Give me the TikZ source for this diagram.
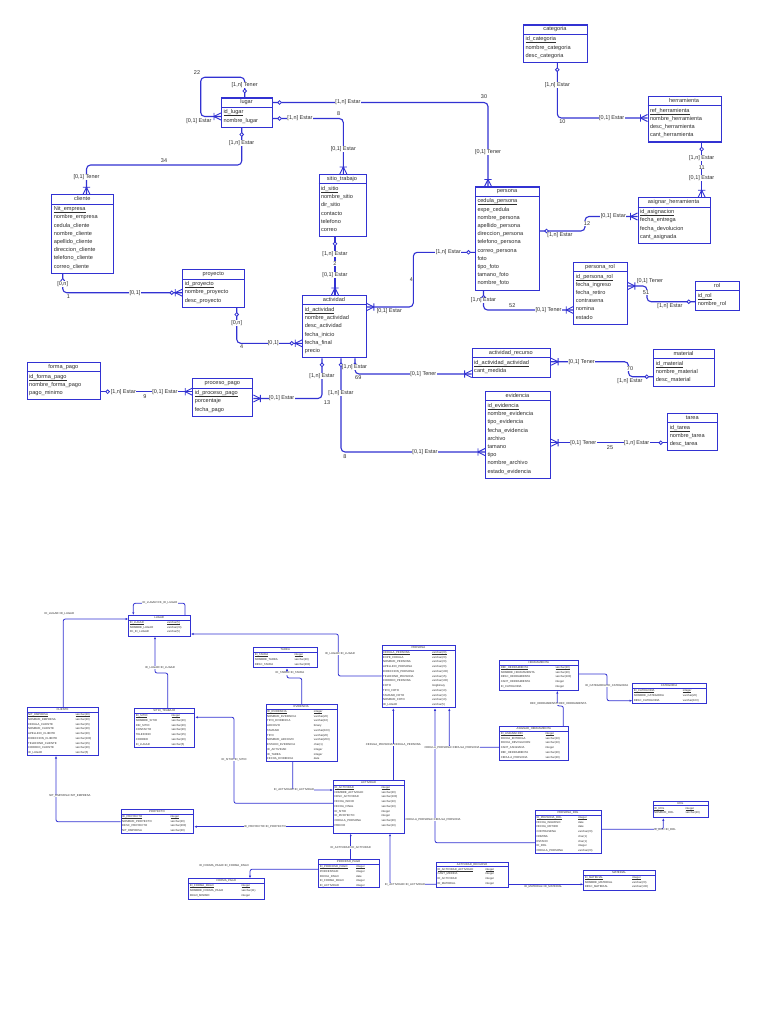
\documentclass[tikz,border=0pt]{standalone}
\usepackage{fontspec}
\setmainfont{Liberation Sans}
\usetikzlibrary{arrows.meta,decorations.markings}
\definecolor{ercol}{RGB}{50,50,210}
\definecolor{txtcol}{RGB}{45,45,45}
\newcount\labn
\newcommand\pku[1]{\vtop{\hbox{#1}\kern0.35pt\hrule height0.8pt}}
\newcommand\pkb[1]{\vtop{\hbox{#1}\kern0.2pt\hrule height0.55pt}}
\tikzset{
 entbox/.style={draw=ercol,line width=1.1pt,inner sep=0pt,anchor=north west},
 entsep/.style={draw=ercol,line width=1pt},
 etxt/.style={font=\fontsize{5.6}{6.5}\selectfont,text=txtcol,inner sep=0pt},
 rel/.style={draw=ercol,line width=1.1pt,rounded corners=4pt},
 onemark/.style={postaction={decorate,decoration={markings,mark=at position 6.5pt with {\draw[ercol,line width=0.8pt,fill=white] (0,0) circle (1.8pt);}}}},
 crowend/.style={postaction={decorate,decoration={markings,mark=at position -0.01pt with {\draw[ercol,line width=0.9pt] (-7pt,0) -- (0,3.5pt) (-7pt,0) -- (0,-3.5pt) (-7pt,3.6pt) -- (-7pt,-3.6pt);}}}},
 optcrow/.style={crowend,postaction={decorate,decoration={markings,mark=at position -10.5pt with {\draw[ercol,line width=0.8pt,fill=white] (0,0) circle (1.8pt);}}}},
 lab/.style={font=\fontsize{5.5}{6}\selectfont,text=txtcol,fill=white,inner sep=0.3pt},
 pbox/.style={draw=ercol,line width=0.9pt,inner sep=0pt,anchor=north west},
 psep/.style={draw=ercol,line width=0.7pt},
 ptxt/.style={font=\fontsize{2.8}{3}\selectfont,text=txtcol,inner sep=0pt},
 prel/.style={draw=ercol,line width=0.8pt,rounded corners=2pt,-{Latex[length=2.6pt,width=2.2pt]}},
 plab/.style={font=\fontsize{2.8}{3}\selectfont,text=txtcol,fill=white,inner sep=0.2pt},
}
% conceptual entity: id, x, y, width, height, title, fields
\newcommand\erent[7]{%
  \node[entbox,minimum width=#4pt,minimum height=#5pt] (#1) at (#2,#3) {};
  \draw[entsep] ({#2},{#3+9.8}) -- ({#2+#4},{#3+9.8});
  \node[etxt,anchor=base] (#1-t) at ({#2+#4/2},{#3+6.5}) {#6};
  \foreach \f [count=\i] in {#7} {
    \node[etxt,anchor=base west] (#1-\i) at ({#2+2.3},{#3+16.4+8.2*(\i-1)}) {\f};
  }%
}
% physical table: id, x, y, width, height, title, name/type rows
\newcommand\phent[7]{%
  \node[pbox,minimum width=#4pt,minimum height=#5pt] (#1) at (#2,#3) {};
  \draw[psep] ({#2},{#3+5}) -- ({#2+#4},{#3+5});
  \node[ptxt,anchor=base] (#1-t) at ({#2+#4/2},{#3+3.5}) {#6};
  \foreach \colname/\coltype [count=\i] in {#7} {
    \node[ptxt,anchor=base west] (#1-n\i) at ({#2+1.3},{#3+8.4+4.75*(\i-1)}) {\ifnum\i=1 \pkb{\colname}\else\colname\fi};
    \node[ptxt,anchor=base west] (#1-y\i) at ({#2+#4-23},{#3+8.4+4.75*(\i-1)}) {\ifnum\i=1 \pkb{\coltype}\else\coltype\fi};
  }%
}
\newcommand\lbl[2]{\global\advance\labn by 1 \node[lab] (lab\the\labn) at (#1) {#2};}
\newcommand\plbl[2]{\global\advance\labn by 1 \node[plab] (lab\the\labn) at (#1) {#2};}
\begin{document}
\begin{tikzpicture}[x=1pt,y=-1pt]
\useasboundingbox[fill=white] (0,0) rectangle (768,1024);

% ================= conceptual model =================
\erent{lugar}{221}{97.5}{51}{29.4}{lugar}{\pku{id\_lugar},nombre\_lugar}
\erent{sitio}{318.5}{174}{47}{62.2}{sitio\_trabajo}{\pku{id\_sitio},nombre\_sitio,dir\_sitio,contacto,telefono,correo}
\erent{categoria}{523}{24.5}{64}{37.6}{categoria}{\pku{id\_categoria},nombre\_categoria,desc\_categoria}
\erent{herramienta}{647.5}{95.7}{73}{45.8}{herramienta}{\pku{ref\_herramienta},nombre\_herramienta,desc\_herramienta,cant\_herramienta}
\erent{asignar}{637.5}{197.3}{72}{45.8}{asignar\_herramienta}{\pku{id\_asignacion},fecha\_entrega,fecha\_devolucion,cant\_asignada}
\erent{persona}{475}{186.5}{64}{103.2}{persona}{\pku{cedula\_persona},expe\_cedula,nombre\_persona,apellido\_persona,direccion\_persona,telefono\_persona,correo\_persona,foto,tipo\_foto,tamano\_foto,nombre\_foto}
\erent{cliente}{51.3}{194.3}{62}{78.6}{cliente}{\pku{Nit\_empresa},nombre\_empresa,cedula\_cliente,nombre\_cliente,apellido\_cliente,direccion\_cliente,telefono\_cliente,correo\_cliente}
\erent{proyecto}{182.3}{269.3}{62}{37.6}{proyecto}{\pku{id\_proyecto},nombre\_proyecto,desc\_proyecto}
\erent{formapago}{26.7}{361.7}{73.3}{37.6}{forma\_pago}{\pku{id\_forma\_pago},nombre\_forma\_pago,pago\_minimo}
\erent{procesopago}{192.3}{378.3}{60}{37.6}{proceso\_pago}{\pku{id\_proceso\_pago},porcentaje,fecha\_pago}
\erent{actividad}{302.3}{295}{63.4}{62.2}{actividad}{\pku{id\_actividad},nombre\_actividad,desc\_actividad,fecha\_inicio,fecha\_final,precio}
\erent{actrec}{471.7}{347.7}{78.3}{29.4}{actividad\_recurso}{\pku{id\_actividad\_actividad},cant\_medida}
\erent{evidencia}{485}{391}{65}{86.8}{evidencia}{\pku{id\_evidencia},nombre\_evidencia,tipo\_evidencia,fecha\_evidencia,archivo,tamano,tipo,nombre\_archivo,estado\_evidencia}
\erent{personarol}{573.3}{261.7}{53.4}{62.2}{persona\_rol}{\pku{id\_persona\_rol},fecha\_ingreso,fecha\_retiro,contrasena,nomina,estado}
\erent{rol}{695.3}{280.7}{43.4}{29.4}{rol}{\pku{id\_rol},nombre\_rol}
\erent{material}{653.3}{348.7}{60.4}{37.6}{material}{\pku{id\_material},nombre\_material,desc\_material}
\erent{tarea}{667.3}{412.7}{50}{37.6}{tarea}{\pku{id\_tarea},nombre\_tarea,desc\_tarea}

% relationships
\draw[rel,onemark,crowend] (lugar.north -| 244.7,0) -- (244.7,77.3) -- (200.7,77.3) -- (200.7,116.5) -- (lugar.west |- 0,116.5);
\draw[rel,onemark,crowend] (lugar.east |- 0,102.5) -- (488,102.5) -- (persona.north -| 488,0);
\draw[rel,onemark,crowend] (lugar.east |- 0,118.5) -- (343.3,118.5) -- (sitio.north -| 343.3,0);
\draw[rel,onemark,crowend] (lugar.south -| 241.7,0) -- (241.7,165) -- (86.5,165) -- (cliente.north -| 86.5,0);
\draw[rel,onemark,crowend] (categoria.south -| 557.3,0) -- (557.3,118) -- (herramienta.west |- 0,118);
\draw[rel,onemark,crowend] (herramienta.south -| 701.7,0) -- (asignar.north -| 701.7,0);
\draw[rel,onemark,crowend] (persona.east |- 0,231) -- (585,231) -- (585,216.5) -- (asignar.west |- 0,216.5);
\draw[rel,onemark,crowend] (persona.west |- 0,252.3) -- (413.3,252.3) -- (413.3,307) -- (actividad.east |- 0,307);
\draw[rel,onemark,crowend] (sitio.south -| 335,0) -- (actividad.north -| 335,0);
\draw[rel,onemark,crowend] (persona.south -| 483.5,0) -- (483.5,310) -- (personarol.west |- 0,310);
\draw[rel,onemark,crowend] (rol.west |- 0,301.7) -- (647,301.7) -- (647,286) -- (personarol.east |- 0,286);
\draw[rel,onemark,crowend] (material.west |- 0,376.7) -- (628.5,376.7) -- (628.5,361.7) -- (actrec.east |- 0,361.7);
\draw[rel,onemark,crowend] (tarea.west |- 0,442.7) -- (evidencia.east |- 0,442.7);
\draw[rel,onemark,optcrow] (cliente.south -| 62.7,0) -- (62.7,292.7) -- (proyecto.west |- 0,292.7);
\draw[rel,onemark,optcrow] (proyecto.south -| 236.7,0) -- (236.7,343.3) -- (actividad.west |- 0,343.3);
\draw[rel,onemark,crowend] (formapago.east |- 0,391.7) -- (procesopago.west |- 0,391.7);
\draw[rel,onemark,crowend] (actividad.south -| 322,0) -- (322,398.5) -- (procesopago.east |- 0,398.5);
\draw[rel,onemark,crowend] (actividad.south -| 355,0) -- (355,374) -- (actrec.west |- 0,374);
\draw[rel,onemark,crowend] (actividad.south -| 341,0) -- (341,452) -- (evidencia.west |- 0,452);

% relationship labels
\lbl{197,72.3}{22}
\lbl{244.7,85}{[1,n] Tener}
\lbl{199,121}{[0,1] Estar}
\lbl{348,102.5}{[1,n] Estar}
\lbl{484,97}{30}
\lbl{488,151.7}{[0,1] Tener}
\lbl{300,118.5}{[1,n] Estar}
\lbl{338.7,113.3}{8}
\lbl{343.3,149.3}{[0,1] Estar}
\lbl{241.7,143.3}{[1,n] Estar}
\lbl{164,161}{34}
\lbl{86.5,177}{[0,1] Tener}
\lbl{557.3,85.3}{[1,n] Estar}
\lbl{562.3,122}{10}
\lbl{611.7,118}{[0,1] Estar}
\lbl{701.7,157.7}{[1,n] Estar}
\lbl{701.7,167.3}{11}
\lbl{701.7,178.3}{[0,1] Estar}
\lbl{560,235}{[1,n] Estar}
\lbl{587,223.3}{12}
\lbl{613.3,216.5}{[0,1] Estar}
\lbl{448.3,252.3}{[1,n] Estar}
\lbl{411.5,279.3}{4}
\lbl{389.3,311.5}{[0,1] Estar}
\lbl{335,254.3}{[1,n] Estar}
\lbl{335,263.7}{2}
\lbl{335,275.3}{[0,1] Estar}
\lbl{483.5,300.5}{[1,n] Estar}
\lbl{512.3,306}{52}
\lbl{548.5,310}{[0,1] Tener}
\lbl{650,280.7}{[0,1] Tener}
\lbl{646,292.7}{51}
\lbl{670,306}{[1,n] Estar}
\lbl{581.7,361.7}{[0,1] Tener}
\lbl{630,368.5}{70}
\lbl{630,381}{[1,n] Estar}
\lbl{583.3,442.7}{[0,1] Tener}
\lbl{610,447.5}{25}
\lbl{636.7,442.7}{[1,n] Estar}
\lbl{62.7,284}{[0,n]}
\lbl{68.3,297}{1}
\lbl{135,292.7}{[0,1]}
\lbl{236.7,323.3}{[0,n]}
\lbl{241.7,346.5}{4}
\lbl{273.3,343.3}{[0,1]}
\lbl{123.3,391.7}{[1,n] Estar}
\lbl{145,397}{9}
\lbl{165,391.7}{[0,1] Estar}
\lbl{322,375.7}{[1,n] Estar}
\lbl{327,402.3}{13}
\lbl{281.7,398.5}{[0,1] Estar}
\lbl{354.5,366.7}{[1,n] Estar}
\lbl{358.3,378}{69}
\lbl{423.3,374}{[0,1] Tener}
\lbl{341,392.7}{[1,n] Estar}
\lbl{345,457}{8}
\lbl{425,452}{[0,1] Estar}

% ================= physical model =================
\phent{LUGARp}{128.3}{615}{61.7}{20.7}{LUGAR}{ID\_LUGAR/varchar(5),NOMBRE\_LUGAR/varchar(20),FK\_ID\_LUGAR/varchar(5)}
\phent{CLIENTEp}{26.7}{707.3}{71.6}{47.7}{CLIENTE}{NIT\_EMPRESA/varchar(20),NOMBRE\_EMPRESA/varchar(20),CEDULA\_CLIENTE/varchar(15),NOMBRE\_CLIENTE/varchar(20),APELLIDO\_CLIENTE/varchar(20),DIRECCION\_CLIENTE/varchar(100),TELEFONO\_CLIENTE/varchar(15),CORREO\_CLIENTE/varchar(20),ID\_LUGAR/varchar(5)}
\phent{SITIOp}{134.3}{708.3}{60}{39}{SITIO\_TRABAJO}{ID\_SITIO/integer,NOMBRE\_SITIO/varchar(20),DIR\_SITIO/varchar(20),CONTACTO/varchar(20),TELEFONO/varchar(15),CORREO/varchar(20),ID\_LUGAR/varchar(5)}
\phent{TAREAp}{253.3}{647.3}{64}{20}{TAREA}{ID\_TAREA/integer,NOMBRE\_TAREA/varchar(20),DESC\_TAREA/varchar(200)}
\phent{EVIDENCIAp}{265.7}{704}{71}{57}{EVIDENCIA}{ID\_EVIDENCIA/integer,NOMBRE\_EVIDENCIA/varchar(20),TIPO\_EVIDENCIA/varchar(10),ARCHIVO/binary,TAMANO/varchar(100),TIPO/varchar(20),NOMBRE\_ARCHIVO/varchar(200),ESTADO\_EVIDENCIA/char(1),ID\_ACTIVIDAD/integer,ID\_TAREA/integer,FECHA\_EVIDENCIA/date}
\phent{PERSONAp}{381.7}{645}{73.3}{62.3}{PERSONA}{CEDULA\_PERSONA/varchar(20),EXPE\_CEDULA/varchar(20),NOMBRE\_PERSONA/varchar(20),APELLIDO\_PERSONA/varchar(20),DIRECCION\_PERSONA/varchar(100),TELEFONO\_PERSONA/varchar(15),CORREO\_PERSONA/varchar(100),FOTO/longbinary,TIPO\_FOTO/varchar(10),TAMANO\_FOTO/varchar(10),NOMBRE\_FOTO/varchar(10),ID\_LUGAR/varchar(5)}
\phent{HERRp}{499.3}{660}{79}{30}{HERRAMIENTA}{REF\_HERRAMIENTA/varchar(20),NOMBRE\_HERRAMIENTA/varchar(20),DESC\_HERRAMIENTA/varchar(100),CANT\_HERRAMIENTA/integer,ID\_CATEGORIA/integer}
\phent{CATEGORIAp}{632.3}{683.3}{73.4}{20}{CATEGORIA}{ID\_CATEGORIA/integer,NOMBRE\_CATEGORIA/varchar(20),DESC\_CATEGORIA/varchar(100)}
\phent{ASIGNARp}{499.3}{726}{69}{34}{ASIGNAR\_HERRAMIENTA}{ID\_ASIGNACION/integer,FECHA\_ENTREGA/varchar(10),FECHA\_DEVOLUCION/varchar(10),CANT\_ASIGNADA/integer,REF\_HERRAMIENTA/varchar(20),CEDULA\_PERSONA/varchar(20)}
\phent{ACTIVIDADp}{333}{780}{71.3}{52.7}{ACTIVIDAD}{ID\_ACTIVIDAD/integer,NOMBRE\_ACTIVIDAD/varchar(20),DESC\_ACTIVIDAD/varchar(100),FECHA\_INICIO/varchar(10),FECHA\_FINAL/varchar(10),ID\_SITIO/integer,ID\_PROYECTO/integer,CEDULA\_PERSONA/varchar(20),PRECIO/varchar(10)}
\phent{PROYECTOp}{120.7}{809}{72.6}{24.3}{PROYECTO}{ID\_PROYECTO/integer,NOMBRE\_PROYECTO/varchar(20),DESC\_PROYECTO/varchar(200),NIT\_EMPRESA/varchar(20)}
\phent{PROCESOp}{318.3}{859.3}{60.7}{28}{PROCESO\_PAGO}{ID\_PROCESO\_PAGO/integer,PORCENTAJE/integer,FECHA\_PAGO/date,ID\_FORMA\_PAGO/integer,ID\_ACTIVIDAD/integer}
\phent{FORMAp}{188.3}{878.3}{76}{20.4}{FORMA\_PAGO}{ID\_FORMA\_PAGO/integer,NOMBRE\_FORMA\_PAGO/varchar(11),PAGO\_MINIMO/integer}
\phent{ACTRECp}{436}{861.7}{72.3}{25}{ACTIVIDAD\_RECURSO}{ID\_ACTIVIDAD\_ACTIVIDAD/integer,CANT\_MEDIDA/integer,ID\_ACTIVIDAD/integer,ID\_MATERIAL/integer}
\phent{MATERIALp}{583.3}{870}{71.7}{20}{MATERIAL}{ID\_MATERIAL/integer,NOMBRE\_MATERIAL/varchar(20),DESC\_MATERIAL/varchar(100)}
\phent{PERSONAROLp}{535}{810}{66}{43.3}{PERSONA\_ROL}{ID\_PERSONA\_ROL/integer,FECHA\_INGRESO/date,FECHA\_RETIRO/date,CONTRASENA/varchar(20),NOMINA/char(1),ESTADO/char(1),ID\_ROL/integer,CEDULA\_PERSONA/varchar(20)}
\phent{ROLp}{652.7}{800.7}{55.6}{16.6}{ROL}{ID\_ROL/integer,NOMBRE\_ROL/varchar(20)}

% references
\draw[prel] (LUGARp.north -| 185,0) -- (185,603.3) -- (133.3,603.3) -- (LUGARp.north -| 133.3,0);
\draw[prel] (CLIENTEp.north -| 63.3,0) -- (63.3,619) -- (LUGARp.west |- 0,619);
\draw[prel] (SITIOp.north -| 167.7,0) -- (167.7,673) -- (155,673) -- (LUGARp.south -| 155,0);
\draw[prel] (PERSONAp.west |- 0,676) -- (338.3,676) -- (338.3,634) -- (LUGARp.east |- 0,634);
\draw[prel] (EVIDENCIAp.north -| 301.7,0) -- (301.7,678) -- (287,678) -- (TAREAp.south -| 287,0);
\draw[prel] (EVIDENCIAp.south -| 292.7,0) -- (292.7,790) -- (ACTIVIDADp.west |- 0,790);
\draw[prel] (ACTIVIDADp.north -| 393.3,0) -- (PERSONAp.south -| 393.3,0);
\draw[prel] (PERSONAROLp.west |- 0,842.7) -- (435,842.7) -- (PERSONAp.south -| 435,0);
\draw[prel] (ASIGNARp.west |- 0,747.3) -- (449.3,747.3) -- (PERSONAp.south -| 449.3,0);
\draw[prel] (ACTIVIDADp.west |- 0,803.3) -- (234,803.3) -- (234,717.3) -- (SITIOp.east |- 0,717.3);
\draw[prel] (ACTIVIDADp.west |- 0,826.7) -- (PROYECTOp.east |- 0,826.7);
\draw[prel] (PROYECTOp.west |- 0,821.7) -- (56,821.7) -- (CLIENTEp.south -| 56,0);
\draw[prel] (PROCESOp.north -| 350.7,0) -- (ACTIVIDADp.south -| 350.7,0);
\draw[prel] (PROCESOp.west |- 0,869.3) -- (250,869.3) -- (FORMAp.north -| 250,0);
\draw[prel] (ACTRECp.west |- 0,884.3) -- (390,884.3) -- (ACTIVIDADp.south -| 390,0);
\draw[prel] (ACTRECp.east |- 0,884.3) -- (MATERIALp.west |- 0,884.3);
\draw[prel] (PERSONAROLp.east |- 0,829.3) -- (663.3,829.3) -- (ROLp.south -| 663.3,0);
\draw[prel] (HERRp.east |- 0,674) -- (607,674) -- (607,700.7) -- (CATEGORIAp.west |- 0,700.7);
\draw[prel] (ASIGNARp.north -| 563.3,0) -- (563.3,706) -- (557.3,706) -- (HERRp.south -| 557.3,0);

\plbl{160,602.7}{ID\_LUGAR=FK\_ID\_LUGAR}
\plbl{59.3,614}{ID\_LUGAR=ID\_LUGAR}
\plbl{160,667.7}{ID\_LUGAR=ID\_LUGAR}
\plbl{340,653.3}{ID\_LUGAR=ID\_LUGAR}
\plbl{290,673.3}{ID\_TAREA=ID\_TAREA}
\plbl{294,790}{ID\_ACTIVIDAD=ID\_ACTIVIDAD}
\plbl{393.3,745}{CEDULA\_PERSONA=CEDULA\_PERSONA}
\plbl{433,819.3}{CEDULA\_PERSONA=CEDULA\_PERSONA}
\plbl{452,747.3}{CEDULA\_PERSONA=CEDULA\_PERSONA}
\plbl{234,760}{ID\_SITIO=ID\_SITIO}
\plbl{265,826.7}{ID\_PROYECTO=ID\_PROYECTO}
\plbl{70,796}{NIT\_EMPRESA=NIT\_EMPRESA}
\plbl{350.7,847.7}{ID\_ACTIVIDAD=ID\_ACTIVIDAD}
\plbl{224,866}{ID\_FORMA\_PAGO=ID\_FORMA\_PAGO}
\plbl{405,884.3}{ID\_ACTIVIDAD=ID\_ACTIVIDAD}
\plbl{543.3,886.7}{ID\_MATERIAL=ID\_MATERIAL}
\plbl{665,830}{ID\_ROL=ID\_ROL}
\plbl{606.7,686}{ID\_CATEGORIA=ID\_CATEGORIA}
\plbl{558.3,704}{REF\_HERRAMIENTA=REF\_HERRAMIENTA}
\end{tikzpicture}
\end{document}
